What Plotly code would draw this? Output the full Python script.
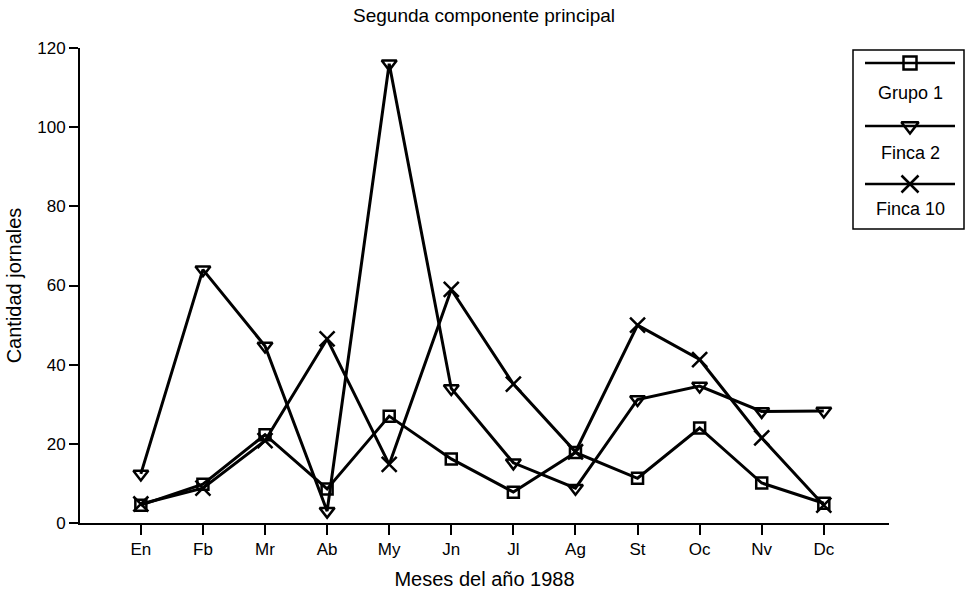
import plotly.graph_objects as go

# data
months = ["En", "Fb", "Mr", "Ab", "My", "Jn", "Jl", "Ag", "St", "Oc", "Nv", "Dc"]
grupo1 = [4.5, 9.8, 22.3, 8.6, 27.0, 16.2, 7.8, 17.8, 11.3, 24.0, 10.1, 5.0]
finca2 = [12.4, 64.0, 44.7, 3.0, 116.0, 34.0, 15.2, 8.8, 31.2, 34.6, 28.2, 28.3]
finca10 = [4.8, 8.8, 20.8, 46.5, 14.8, 59.0, 35.1, 18.0, 50.0, 41.3, 21.5, 4.5]

series_names = ["Grupo 1", "Finca 2", "Finca 10"]
series_values = [grupo1, finca2, finca10]
symbols = ["square-open", "triangle-down-open", "x-thin-open"]
sizes = [11, 13, 15]

FONT = "Liberation Sans, Arial, sans-serif"
x_idx = list(range(len(months)))

fig = go.Figure()

for name, vals, sym, sz in zip(series_names, series_values, symbols, sizes):
    fig.add_trace(go.Scatter(
        x=x_idx, y=vals, name=name, mode="lines+markers",
        line=dict(color="black", width=3),
        marker=dict(symbol=sym, size=sz, color="black",
                    line=dict(color="black", width=2.5)),
        showlegend=False,
    ))

# hand-drawn legend (label under each sample, like the original)
leg_rows = [63, 126, 184]
leg_labels = [93, 153, 209]
for name, sym, sz, ry, ly in zip(series_names, symbols, sizes, leg_rows, leg_labels):
    fig.add_shape(type="line", xref="x2", yref="y2", x0=865, x1=955, y0=ry, y1=ry,
                  line=dict(color="black", width=2.5))
    fig.add_trace(go.Scatter(
        x=[910], y=[ry], mode="markers", xaxis="x2", yaxis="y2",
        marker=dict(symbol=sym, size=sz + 2, color="black",
                    line=dict(color="black", width=2.5)),
        showlegend=False, hoverinfo="skip",
    ))
    fig.add_annotation(x=910, y=ly, xref="x2", yref="y2", text=name,
                       showarrow=False, font=dict(size=18, color="black", family=FONT))
fig.add_shape(type="rect", xref="x2", yref="y2", x0=853, x1=964, y0=50, y1=229,
              line=dict(color="black", width=1.5))

fig.update_layout(
    width=967, height=598,
    margin=dict(l=80, r=0, t=48, b=75, autoexpand=False),
    paper_bgcolor="white", plot_bgcolor="white",
    font=dict(family=FONT, size=17, color="black"),
    title=dict(text="Segunda componente principal", x=0.4555, xref="paper",
               xanchor="center", y=0.974, yref="container", yanchor="middle",
               font=dict(size=19, color="black")),
    xaxis=dict(domain=[0, 809 / 887], range=[-0.98, 12.05], automargin=False,
               tickmode="array", tickvals=x_idx, ticktext=months,
               showgrid=False, zeroline=False, showline=True,
               linecolor="black", linewidth=2, ticks="outside",
               ticklen=10, tickwidth=1.5, tickcolor="black",
               title=dict(text="Meses del año 1988", standoff=14)),
    yaxis=dict(range=[0, 120], tickvals=[0, 20, 40, 60, 80, 100, 120], automargin=False,
               showgrid=False, zeroline=False, showline=True,
               linecolor="black", linewidth=2, ticks="outside",
               ticklen=9, tickwidth=1.5, tickcolor="black",
               title=dict(text="Cantidad jornales", standoff=10)),
    xaxis2=dict(domain=[772 / 887, 1], range=[852, 967], visible=False),
    yaxis2=dict(domain=[0, 1], range=[523, 48], visible=False, anchor="x2"),
)

# drop the default page margin so the figure sits at the window's top-left corner
fig.write_html("out.html", config={"displayModeBar": False},
               post_script="document.body.style.margin='0';")
